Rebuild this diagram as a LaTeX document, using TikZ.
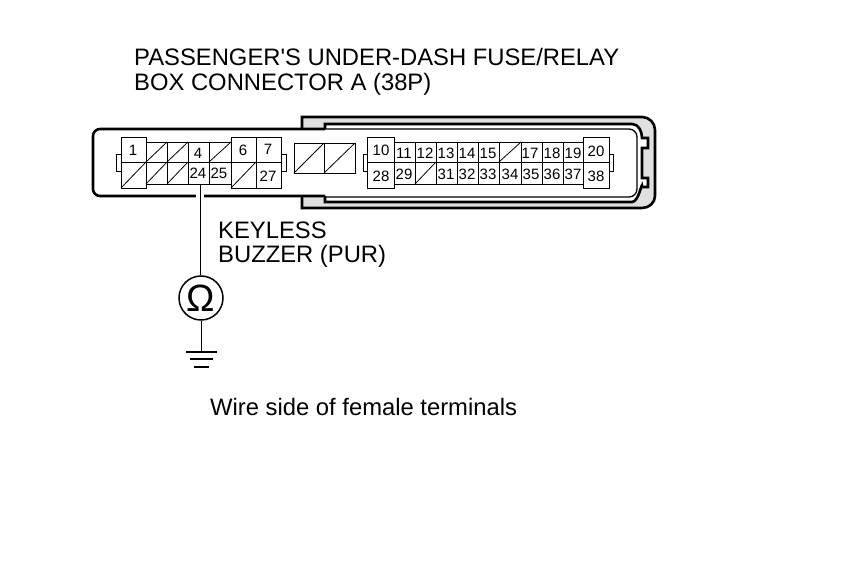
\documentclass[tikz,border=0pt]{standalone}
\usepackage{fontspec}
\setmainfont{Liberation Sans}
\usetikzlibrary{positioning}
\definecolor{housinggray}{gray}{0.88}
\tikzset{
	cellbox/.style={draw, line width=0.8pt},
	termlabel/.style={inner sep=0pt, font=\fontsize{15}{15}\selectfont},
	caption/.style={inner sep=0pt, anchor=west, align=left, font=\fontsize{23.8}{24}\selectfont},
	thickline/.style={line width=2.6pt},
	thinline/.style={line width=1.3pt},
	wire/.style={line width=1pt},
}
\begin{document}
\begin{tikzpicture}[x=1pt,y=-1pt]
	\useasboundingbox (0,0) rectangle (860,577);
	% outer housing
	\filldraw[thickline, fill=housinggray] (302,129) -- (302,117) -- (642,117) to[out=0,in=90] (655,130) -- (655,196) to[out=90+180,in=0] (642,208) -- (302,208) -- (302,196) -- cycle;
	\fill[white] (325,124) -- (632,124) to[out=0,in=90] (642,138) -- (648,138) -- (648,148) -- (642,148) -- (642,178) -- (648,178) -- (648,187) -- (642,187) to[out=90,in=0] (632,202) -- (325,202) -- cycle;
	\draw[thickline] (325,129) -- (325,124) -- (632,124) to[out=0,in=90] (642,138) -- (648,138) -- (648,148) -- (642,148) -- (642,178) -- (648,178) -- (648,187) -- (642,187) to[out=90,in=0] (632,202) -- (325,202) -- (325,196);
	% left part of the body
	\fill[white] (300,130) rectangle (326,195);
	\filldraw[thickline, fill=white, rounded corners=7pt] (325,129) -- (93,129) -- (93,196) -- (325,196);
	\draw[thinline, rounded corners=8pt] (325,129) -- (637,129) -- (637,197) -- (325,197);
	\fill[white] (196,193) rectangle (204,199);
	% side ears
	\foreach \xa/\xb in {116/121,281/286,363/367,609/613}
		\draw[cellbox] (\xa,154) rectangle (\xb,171);
	% small terminals
	\foreach \xa/\xb in {146/167,167/188,188/209,209/231,394/415,415/436,436/457,457/478,478/499,499/521,521/542,542/563,563/583}
		\draw[cellbox] (\xa,142) rectangle (\xb,162) (\xa,162) rectangle (\xb,184);
	% large terminals
	\foreach \xa/\xb in {121/146,231/256,256/281,367/394,583/609}
		\draw[cellbox] (\xa,137) rectangle (\xb,162) (\xa,162) rectangle (\xb,188);
	% blanked terminals
	\foreach \xa/\xb/\ya/\yb in {146/167/162/142,167/188/162/142,209/231/162/142,499/521/162/142,121/146/188/162,146/167/184/162,167/188/184/162,231/256/188/162,415/436/184/162}
		\draw[cellbox] (\xa,\ya) -- (\xb,\yb);
	% middle block
	\draw[cellbox] (294,143) rectangle (324,173) (324,143) rectangle (355,173);
	\draw[cellbox] (294,173) -- (324,143) (324,173) -- (355,143);
	% terminal numbers
	\foreach \num/\xc/\yc in {1/133/150,4/198/153,6/243/150,7/268/149,
		24/198/173,25/219/173,27/268/176,
		10/381/150,11/404/153,12/425/153,13/446/153,14/467/153,15/488/153,17/530/153,18/552/153,19/573/153,20/596/151,
		28/381/176,29/404/174,31/446/174,32/467/174,33/488/174,34/510/174,35/531/174,36/552/174,37/573/174,38/596/176}
		\node[termlabel] (t\num) at (\xc,\yc) {\num};
	% labels
	\node[caption] (title) at (134,71.5) {PASSENGER\textquotesingle S UNDER-DASH FUSE/RELAY\\[1pt]BOX CONNECTOR A (38P)};
	\node[caption] (wirename) at (218,245) {KEYLESS\\BUZZER (PUR)};
	\node[caption] (sidenote) at (210,407) {Wire side of female terminals};
	% meter
	\node[draw, circle, line width=1.5pt, minimum size=44pt, inner sep=0pt] (ohm) at (201,298) {\fontsize{38}{38}\selectfont Ω};
	\coordinate (wiretop) at (200,184);
	\coordinate (gnd) at (201,352);
	\draw[wire] (wiretop) -- (wiretop |- ohm.north);
	\draw[wire] (ohm.south) -- (gnd);
	\draw[line width=1.5pt] ([xshift=-15pt]gnd) -- ([xshift=16pt]gnd);
	\draw[line width=1.5pt] ([xshift=-11pt,yshift=-7pt]gnd) -- ([xshift=12pt,yshift=-7pt]gnd);
	\draw[line width=1.5pt] ([xshift=-7pt,yshift=-15pt]gnd) -- ([xshift=8pt,yshift=-15pt]gnd);
\end{tikzpicture}
\end{document}
